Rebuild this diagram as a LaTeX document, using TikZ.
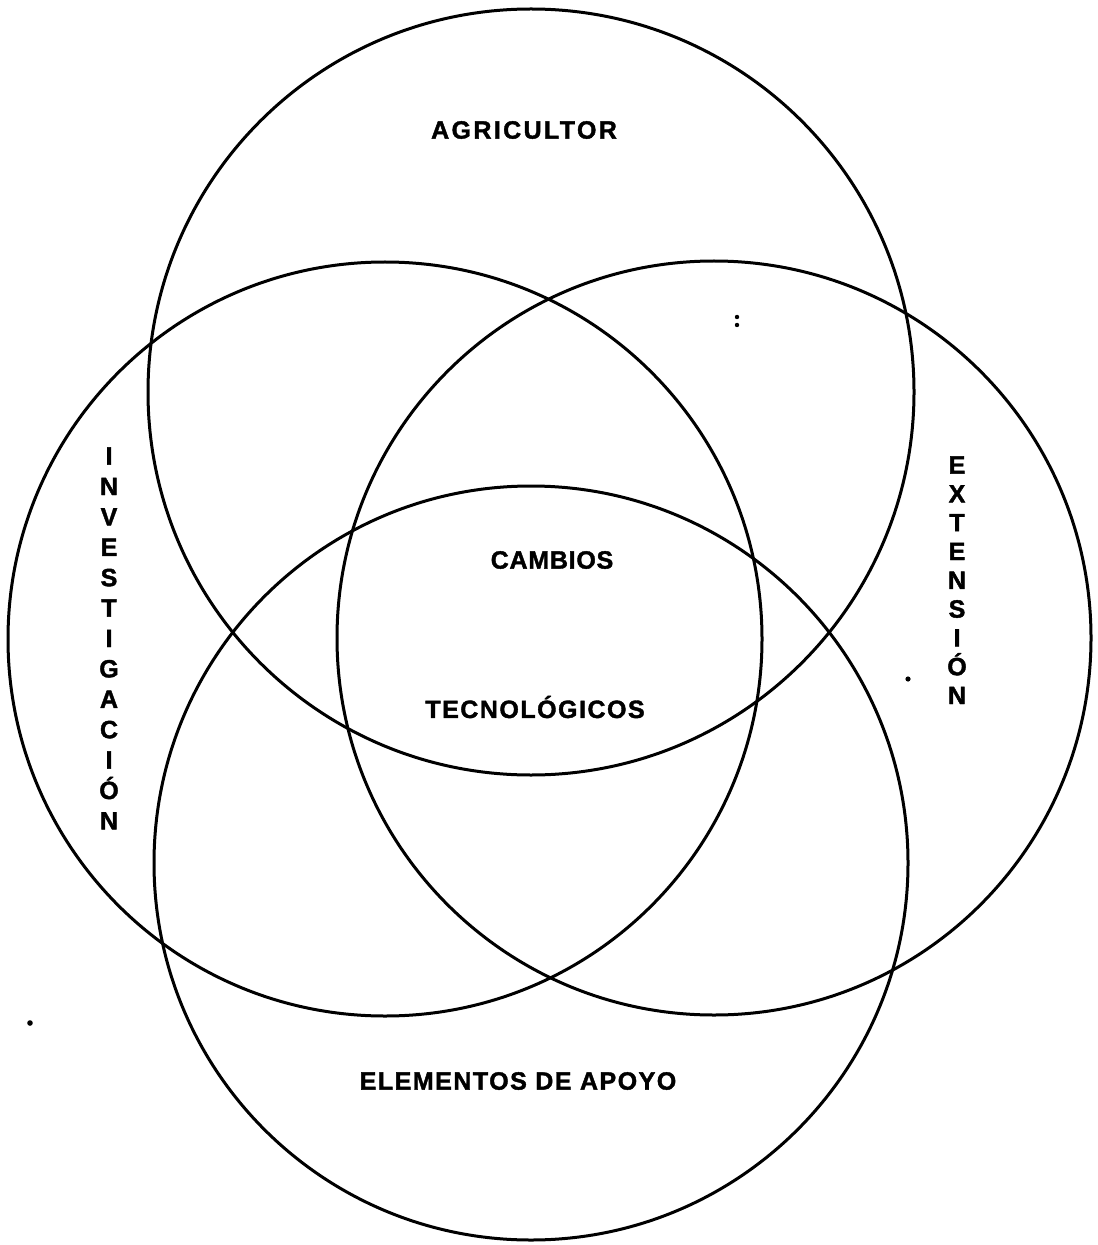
\documentclass[tikz,border=0pt]{standalone}
\usepackage{fontspec}
\setmainfont{Liberation Sans}
\usepackage{tikz}
\usetikzlibrary{positioning}
\newcommand{\vennfont}[2]{\fontsize{12.5}{#2}\selectfont\bfseries\addfontfeatures{LetterSpace=#1,FakeBold=1.6}}
\tikzset{
  venn-circle/.style={draw=black,line width=1.5pt,circle,
    minimum size=377pt,inner sep=0pt},
  venn-label/.style={font=\vennfont{#1}{14},inner sep=0pt},
  venn-stack/.style={font=\vennfont{0}{#1},inner sep=0pt,
    align=center,anchor=north},
}

\begin{document}
\begin{tikzpicture}[x=0.5pt,y=-0.5pt]
  \useasboundingbox (0,0) rectangle (1097,1245);
  % los cuatro conjuntos
  \node[venn-circle,minimum size=383pt] (agri) at (531,392) {};
  \node[venn-circle] (inves) at (385,639) {};
  \node[venn-circle] (exten) at (714,638) {};
  \node[venn-circle] (apoyo) at (531,863) {};
  % rotulos
  \node[venn-label=9.5] (agri-txt)  at (524,130)  {AGRICULTOR};
  \node[venn-label=3]   (camb-txt)  at (552,560)  {CAMBIOS};
  \node[venn-label=6]   (tecn-txt)  at (535,707)  {TECNOLÓGICOS};
  \node[venn-label=6]   (apoyo-txt) at (518,1081) {ELEMENTOS DE APOYO};
  \node[venn-stack=15.2] (inves-txt) at (109,447)
    {I\\N\\V\\E\\S\\T\\I\\G\\A\\C\\I\\Ó\\N};
  \node[venn-stack=14.4] (exten-txt) at (957,456)
    {E\\X\\T\\E\\N\\S\\I\\Ó\\N};
  % motas del original
  \fill (737,317) circle[radius=1.1pt];
  \fill (737,325) circle[radius=1.1pt];
  \fill (908,679) circle[radius=1.3pt];
  \fill (30,1023) circle[radius=1.4pt];
\end{tikzpicture}
\end{document}
